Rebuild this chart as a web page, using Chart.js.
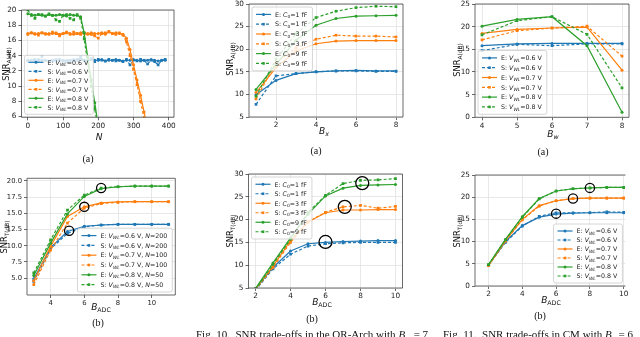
<!DOCTYPE html>
<html>
<head>
<meta charset="utf-8">
<script src="https://cdn.jsdelivr.net/npm/chart.js@4"></script>
<style>
  html, body { margin: 0; padding: 0; background: #fff; }
  body { width: 640px; height: 337px; position: relative; overflow: hidden; }
  canvas { position: absolute; }
  .cap { position: absolute; top: 329px; font: 11px 'Liberation Serif'; line-height: 11px; white-space: nowrap; color: #111; }
  .cap sub { font-size: 8px; }
</style>
</head>
<body>
<canvas id="p1"></canvas>
<canvas id="p2"></canvas>
<canvas id="p3"></canvas>
<canvas id="p4"></canvas>
<canvas id="p5"></canvas>
<canvas id="p6"></canvas>
<div class="cap" style="left:196px">Fig. 10.&nbsp; SNR trade-offs in the QR-Arch with <i>B</i><sub>w</sub> = 7</div>
<div class="cap" style="left:443px">Fig. 11.&nbsp; SNR trade-offs in CM with <i>B</i><sub>x</sub> = 6</div>
<script>
const BLUE = '#1f77b4', ORANGE = '#ff7f0e', GREEN = '#2ca02c';
const FONT = 'DejaVu Sans';

// ---- (a) top-left: SNR_A vs N ----
const aN = [0, 10, 20, 30, 40, 50, 60, 70, 80, 90, 100, 110, 120, 130, 140, 150, 160, 170, 180, 190,
  200, 210, 220, 230, 240, 250, 260, 270, 280, 290, 300, 310, 320, 330, 340, 350, 360, 370, 380, 390];
const aE06 = [13.4, 13.4, 13.3, 13.5, 13.4, 13.4, 13.3, 13.4, 13.5, 13.4, 13.3, 13.4, 13.4, 13.5, 13.4, 13.6, 13.4, 13.3, 13.5, 13.4,
  13.4, 13.5, 13.3, 13.4, 13.4, 13.5, 13.4, 13.3, 13.4, 13.4, 13.5, 13.4, 13.3, 13.4, 13.4, 13.5, 13.4, 13.3, 13.4, 13.4];
const aS06 = [13.3, 13.4, 13.5, 13.3, 13.9, 13.4, 13.2, 13.4, 13.3, 13.5, 13.4, 13.2, 13.4, 13.3, 13.5, 13.8, 13.3, 13.4, 13.6, 13.2,
  13.5, 13.4, 13.3, 13.5, 13.4, 13.3, 13.4, 13.2, 13.5, 12.8, 13.4, 13.3, 13.5, 13.4, 12.9, 13.4, 13.2, 12.8, 13.4, 13.5];
const aE07 = [16.9, 17.0, 16.8, 16.9, 17.0, 16.8, 16.9, 16.9, 17.0, 16.8, 16.9, 17.1, 16.9, 16.8, 16.9, 17.0, 16.9, 16.8, 17.0, 16.9,
  16.9, 17.0, 16.8, 17.1, 16.9, 17.0, 16.9, 16.8, 16.3, 14.8, 12.8, 10.8, 8.8, 6.6, 4.4];
const aS07 = [16.8, 17.0, 16.9, 16.7, 17.0, 16.9, 16.8, 17.1, 16.9, 16.6, 16.9, 17.0, 16.8, 17.1, 16.9, 16.8, 17.0, 16.9, 16.8, 16.6,
  16.3, 16.9, 17.0, 17.2, 16.9, 16.8, 17.0, 16.7, 15.8, 14.0, 12.2, 10.2, 8.0, 5.8, 3.8];
const aE08 = [19.5, 19.4, 19.3, 19.4, 19.3, 19.2, 19.4, 19.3, 19.3, 19.4, 19.3, 19.2, 19.4, 19.3, 19.3, 19.1, 17.0, 13.8, 10.8, 7.8, 4.8, 1.8];
const aS08 = [20.0, 19.3, 18.9, 19.4, 19.4, 19.2, 19.5, 19.3, 18.7, 18.5, 19.3, 19.4, 18.9, 18.7, 19.4, 18.9, 16.2, 13.0, 10.0, 7.0, 4.2, 1.2];
const aTicksX = [0, 100, 200, 300, 400];
const aTicksY = [6, 8, 10, 12, 14, 16, 18, 20];

// ---- (a) top-middle: SNR_A vs B_x ----
const bx = [1, 2, 3, 4, 5, 6, 7, 8];
const bxE1 = [9.9, 13.1, 14.6, 15.0, 15.2, 15.3, 15.2, 15.2];
const bxS1 = [7.8, 14.1, 14.6, 15.0, 15.2, 15.2, 15.1, 15.1];
const bxE3 = [10.4, 15.9, 19.6, 21.2, 21.8, 21.9, 21.9, 21.9];
const bxS3 = [9.0, 17.0, 20.3, 22.2, 23.1, 22.9, 22.9, 22.7];
const bxE9 = [11.1, 16.6, 22.0, 25.3, 26.8, 27.3, 27.4, 27.5];
const bxS9 = [9.6, 17.8, 23.4, 27.0, 28.4, 29.2, 29.5, 29.4];
const bxTicksX = [2, 4, 6, 8];
const bxTicksY = [5, 10, 15, 20, 25, 30];

// ---- (a) top-right: SNR_A vs B_w ----
const bw = [4, 5, 6, 7, 8];
const bwE06 = [15.8, 16.2, 16.3, 16.3, 16.3];
const bwS06 = [14.7, 16.1, 15.8, 16.2, 16.2];
const bwE07 = [18.5, 19.4, 19.7, 19.9, 10.4];
const bwS07 = [17.1, 19.1, 19.7, 20.1, 13.5];
const bwE08 = [20.1, 21.6, 22.2, 15.8, 1.1];
const bwS08 = [18.2, 21.3, 22.2, 18.3, 6.5];
const bwTicksX = [4, 5, 6, 7, 8];
const bwTicksY = [0, 5, 10, 15, 20, 25];

// ---- (b) bottom-left: SNR_T vs B_ADC ----
const adcL = [3, 4, 5, 6, 7, 8, 9, 10, 11];
const lE06 = [4.9, 9.7, 12.2, 13.0, 13.2, 13.3, 13.3, 13.3, 13.3];
const lS06 = [4.5, 9.5, 11.9, 12.9, 13.2, 13.3, 13.3, 13.3, 13.3];
const lE07 = [4.6, 9.9, 14.5, 16.0, 16.6, 16.75, 16.8, 16.8, 16.8];
const lS07 = [4.0, 9.3, 13.5, 15.8, 16.5, 16.7, 16.8, 16.8, 16.8];
const lE08 = [5.4, 10.4, 14.9, 17.6, 18.8, 19.1, 19.2, 19.2, 19.2];
const lS08 = [5.8, 10.9, 15.5, 17.8, 18.9, 19.1, 19.2, 19.2, 19.2];
const lRingX = [5.1, 6.0, 7.0];
const lRingY = [12.3, 16.0, 18.9];
const lTicksX = [4, 6, 8, 10];
const lTicksY = [5, 7.5, 10, 12.5, 15, 17.5, 20];

// ---- (b) bottom-middle: SNR_T vs B_ADC, C0 ----
const adcM = [2, 3, 4, 5, 6, 7, 8, 9, 10];
const mE1 = [4.8, 9.5, 13.1, 14.7, 15.0, 15.2, 15.3, 15.4, 15.4];
const mS1 = [4.5, 9.2, 12.4, 14.2, 14.7, 14.9, 15.0, 15.0, 15.0];
const mE3 = [4.8, 9.8, 15.4, 19.5, 21.5, 22.1, 22.1, 22.2, 22.2];
const mS3 = [4.6, 9.5, 15.0, 19.5, 21.6, 22.8, 23.1, 22.5, 22.9];
const mE9 = [4.9, 10.5, 16.0, 21.2, 25.2, 26.9, 27.5, 27.6, 27.7];
const mS9 = [4.6, 10.2, 15.7, 21.6, 25.3, 27.9, 28.6, 28.7, 29.0];
const mRingX = [6.0, 7.1, 8.1];
const mRingY = [15.1, 22.8, 28.0];
const mTicksX = [2, 4, 6, 8, 10];
const mTicksY = [5, 10, 15, 20, 25, 30];

// ---- (b) bottom-right: SNR_T vs B_ADC in CM ----
const adcR = [2, 3, 4, 5, 6, 7, 8, 9, 10];
const rE06 = [4.7, 10.0, 13.6, 15.5, 16.2, 16.4, 16.5, 16.5, 16.5];
const rS06 = [4.7, 9.8, 13.5, 15.7, 16.5, 16.5, 16.5, 16.7, 16.6];
const rE07 = [4.6, 10.2, 15.0, 18.1, 19.2, 19.7, 19.8, 19.8, 19.8];
const rS07 = [4.6, 10.1, 14.9, 18.0, 19.2, 19.7, 19.8, 19.8, 19.8];
const rE08 = [4.8, 10.5, 15.6, 19.7, 21.4, 21.9, 22.1, 22.2, 22.2];
const rS08 = [4.8, 10.4, 15.5, 19.6, 21.4, 21.9, 22.1, 22.2, 22.2];
const rRingX = [6, 7, 8];
const rRingY = [16.3, 19.7, 22.1];
const rTicksX = [2, 4, 6, 8, 10];
const rTicksY = [0, 5, 10, 15, 20, 25];

// rich text: [text, style] where style has i = italic, s = subscript
function segFont(st, size) {
  const sz = st.includes('s') ? size * 0.7 : size;
  return (st.includes('i') ? 'italic ' : '') + sz + 'px "' + FONT + '"';
}
function richWidth(ctx, segs, size) {
  let w = 0;
  for (const [t, st] of segs) { ctx.font = segFont(st, size); w += ctx.measureText(t).width; }
  return w;
}
function drawRich(ctx, segs, x, y, size, center) {
  let cx = center ? x - richWidth(ctx, segs, size) / 2 : x;
  ctx.textAlign = 'left';
  ctx.textBaseline = 'alphabetic';
  for (const [t, st] of segs) {
    ctx.font = segFont(st, size);
    ctx.fillText(t, cx, y + (st.includes('s') ? size * 0.22 : 0));
    cx += ctx.measureText(t).width;
  }
}

const vwl = (p, v, n) => [[p + ': ', ''], ['V', 'i'], ['WL', 'is'], ['=' + v + ' V' + (n ? ', ' : ''), '']]
  .concat(n ? [['N', 'i'], ['=' + n, '']] : []);
const c0 = (p, v) => [[p + ': ', ''], ['C', 'i'], ['0', 's'], ['=' + v + ' fF', '']];

function series(xs, ys, color, dashed, rich) {
  return {
    data: ys.map((y, i) => ({ x: xs[i], y })),
    borderColor: color,
    backgroundColor: color,
    borderWidth: 1.2,
    borderDash: dashed ? [3, 2] : [],
    pointStyle: dashed ? 'rect' : 'circle',
    pointRadius: dashed ? 1.9 : 1.5,
    pointBorderWidth: 0,
    tension: 0,
    rich,
  };
}
function rings(xs, ys, r) {
  return {
    data: xs.map((x, i) => ({ x, y: ys[i] })),
    showLine: false,
    pointRadius: r,
    pointBackgroundColor: 'rgba(0,0,0,0)',
    pointBorderColor: '#000',
    pointBorderWidth: 1.3,
    order: 0,
  };
}
function six(xs, arrs, labels) {
  const cols = [BLUE, BLUE, ORANGE, ORANGE, GREEN, GREEN];
  return arrs.map((a, i) => Object.assign(series(xs, a, cols[i], i % 2 === 1, labels[i]), { order: 100 - i }));
}

const panelPlugin = {
  id: 'panel',
  afterDraw(chart, args, o) {
    const ctx = chart.ctx, a = chart.chartArea;
    const ox = o.box[0], oy = o.box[1];
    ctx.save();

    // frame
    ctx.strokeStyle = '#444';
    ctx.lineWidth = 0.8;
    ctx.beginPath();
    ctx.moveTo(a.left, a.top); ctx.lineTo(a.right, a.top);
    ctx.moveTo(a.left, a.top); ctx.lineTo(a.left, a.bottom); ctx.lineTo(a.right, a.bottom);
    if (o.frameRight !== false) { ctx.moveTo(a.right, a.top); ctx.lineTo(a.right, a.bottom); }
    ctx.stroke();

    // legend inside the plot
    const items = chart.data.datasets.filter(d => d.rich);
    const fs = 6.3;
    const tw = Math.max(...items.map(d => richWidth(ctx, d.rich, fs)));
    const w = tw + 28, h = items.length * o.rowH + 5;
    const x0 = o.legend[1] === 'l' ? a.left + 3 : a.right - 3 - w;
    const y0 = o.legend[0] === 'u' ? a.top + 3 : a.bottom - 3 - h;
    ctx.fillStyle = 'rgba(255,255,255,0.8)';
    ctx.strokeStyle = '#cccccc';
    ctx.beginPath(); ctx.roundRect(x0, y0, w, h, 2); ctx.fill(); ctx.stroke();
    items.forEach((d, i) => {
      const cy = y0 + 2.5 + o.rowH * (i + 0.5);
      ctx.strokeStyle = d.borderColor;
      ctx.lineWidth = 1.2;
      ctx.setLineDash(d.borderDash);
      ctx.beginPath(); ctx.moveTo(x0 + 4, cy); ctx.lineTo(x0 + 19, cy); ctx.stroke();
      ctx.setLineDash([]);
      ctx.fillStyle = d.borderColor;
      if (d.pointStyle === 'rect') ctx.fillRect(x0 + 10.2, cy - 1.3, 2.6, 2.6);
      else { ctx.beginPath(); ctx.arc(x0 + 11.5, cy, 1.5, 0, Math.PI * 2); ctx.fill(); }
      ctx.fillStyle = '#222';
      drawRich(ctx, d.rich, x0 + 23, cy + fs * 0.36, fs, false);
    });

    // axis titles and sub-figure caption
    ctx.fillStyle = '#111';
    drawRich(ctx, o.xTitle[0], o.xTitle[1] - ox, o.xTitle[2] - oy, 9, true);
    ctx.save();
    ctx.translate(o.yTitle[1] - ox, o.yTitle[2] - oy);
    ctx.rotate(-Math.PI / 2);
    drawRich(ctx, o.yTitle[0], 0, 3, 8.3, true);
    ctx.restore();
    ctx.font = '10px "Liberation Serif"';
    ctx.textAlign = 'center';
    ctx.textBaseline = 'middle';
    ctx.fillText(o.cap[0], o.cap[1] - ox, o.cap[2] - oy);
    ctx.restore();
  },
};

function makePanel(p) {
  const [bx0, by0, bw0, bh0] = p.box;
  const [l, t, r, b] = p.area;
  // scale boxes fill the whole gap so tick labels are never clipped
  const YW = l - bx0 - 0.5, XH = 16;
  const canvas = document.getElementById(p.id);
  canvas.width = bw0; canvas.height = bh0;
  canvas.style.left = bx0 + 'px'; canvas.style.top = by0 + 'px';
  const tickFont = { family: FONT, size: p.tickSize || 7.3 };
  const grid = { color: '#e2e2e2', lineWidth: 0.8, tickLength: 3, tickColor: '#444', tickWidth: 0.8 };
  return new Chart(canvas, {
    type: 'line',
    data: { datasets: p.datasets },
    plugins: [panelPlugin],
    options: {
      responsive: false,
      animation: false,
      devicePixelRatio: 1,
      events: [],
      layout: { padding: { left: l - bx0 - YW, top: t - by0, right: bx0 + bw0 - r, bottom: by0 + bh0 - b - XH } },
      plugins: {
        legend: { display: false },
        tooltip: { enabled: false },
        panel: p,
      },
      scales: {
        x: {
          type: 'linear', min: p.xr[0], max: p.xr[1],
          afterBuildTicks: s => { s.ticks = p.xTicks.map(v => ({ value: v })); },
          afterFit: s => { s.height = XH; s.paddingLeft = 0; s.paddingRight = 0; },
          grid, border: { display: false },
          ticks: { font: tickFont, color: '#222', padding: 1, maxRotation: 0, autoSkip: false },
        },
        y: {
          type: 'linear', min: p.yr[0], max: p.yr[1],
          afterBuildTicks: s => { s.ticks = p.yTicks.map(v => ({ value: v })); },
          afterFit: s => { s.width = YW; s.paddingTop = 0; s.paddingBottom = 0; },
          grid, border: { display: false },
          ticks: { font: tickFont, color: '#222', padding: 2, autoSkip: false, callback: p.yFmt || (v => v) },
        },
      },
    },
  });
}

const lblV = ['0.6', '0.6', '0.7', '0.7', '0.8', '0.8'];
const lblP = ['E', 'S', 'E', 'S', 'E', 'S'];
const lblC = ['1', '1', '3', '3', '9', '9'];
const lblN = ['200', '200', '100', '100', '50', '50'];
const vLabels = lblP.map((p, i) => vwl(p, lblV[i]));
const cLabels = lblP.map((p, i) => c0(p, lblC[i]));
const vnLabels = lblP.map((p, i) => vwl(p, lblV[i], lblN[i]));
const snrA = [['SNR', ''], ['A(dB)', 's']];
const snrT = [['SNR', ''], ['T(dB)', 's']];
const bAdc = [['B', 'i'], ['ADC', 's']];

makePanel({
  id: 'p1', box: [0, 0, 210, 165], area: [21.5, 10, 174, 117.3], xr: [-18, 415], yr: [5.9, 20],
  xTicks: aTicksX, yTicks: aTicksY, legend: 'll', rowH: 9,
  xTitle: [[['N', 'i']], 99, 140], yTitle: [snrA, 6, 64], cap: ['(a)', 88, 159],
  datasets: six(aN, [aE06, aS06, aE07, aS07, aE08, aS08], vLabels),
});
makePanel({
  id: 'p2', box: [210, 0, 220, 165], area: [249, 2, 403, 117], xr: [0.65, 8.35], yr: [5, 30],
  xTicks: bxTicksX, yTicks: bxTicksY, legend: 'ul', rowH: 9.8,
  xTitle: [[['B', 'i'], ['x', 'is']], 324, 134], yTitle: [snrA, 230, 59], cap: ['(a)', 316, 151],
  datasets: six(bx, [bxE1, bxS1, bxE3, bxS3, bxE9, bxS9], cLabels),
});
makePanel({
  id: 'p3', box: [430, 0, 210, 165], area: [475, 3.3, 629, 117.3], xr: [3.8, 8.2], yr: [0, 25],
  xTicks: bwTicksX, yTicks: bwTicksY, legend: 'll', rowH: 9.8,
  xTitle: [[['B', 'i'], ['w', 'is']], 553, 137], yTitle: [snrA, 457, 60], cap: ['(a)', 543, 152],
  datasets: six(bw, [bwE06, bwS06, bwE07, bwS07, bwE08, bwS08], vLabels),
});
makePanel({
  id: 'p4', box: [0, 165, 210, 172], area: [27, 178.3, 175.3, 295], xr: [2.6, 11.4], yr: [2.4, 20.4],
  xTicks: lTicksX, yTicks: lTicksY, legend: 'lr', rowH: 9.8, yFmt: v => v.toFixed(1), tickSize: 6.8,
  xTitle: [bAdc, 101, 310], yTitle: [snrT, 4.2, 237], cap: ['(b)', 98, 323],
  datasets: six(adcL, [lE06, lS06, lE07, lS07, lE08, lS08], vnLabels).concat([rings(lRingX, lRingY, 4.6)]),
});
makePanel({
  id: 'p5', box: [210, 165, 220, 172], area: [248.5, 174, 402.5, 288], xr: [1.6, 10.4], yr: [5, 30],
  xTicks: mTicksX, yTicks: mTicksY, legend: 'ul', rowH: 9.5,
  xTitle: [bAdc, 322, 305], yTitle: [snrT, 230, 231], cap: ['(b)', 312, 319],
  datasets: six(adcM, [mE1, mS1, mE3, mS3, mE9, mS9], cLabels).concat([rings(mRingX, mRingY, 6.5)]),
});
makePanel({
  id: 'p6', box: [430, 165, 210, 172], area: [475, 175, 625.4, 286], xr: [1.2, 10.1], yr: [0, 25],
  xTicks: rTicksX, yTicks: rTicksY, legend: 'lr', rowH: 9, frameRight: false,
  xTitle: [bAdc, 551, 303], yTitle: [snrT, 457, 231], cap: ['(b)', 540, 316],
  datasets: six(adcR, [rE06, rS06, rE07, rS07, rE08, rS08], vLabels).concat([rings(rRingX, rRingY, 4.6)]),
});
</script>
</body>
</html>
